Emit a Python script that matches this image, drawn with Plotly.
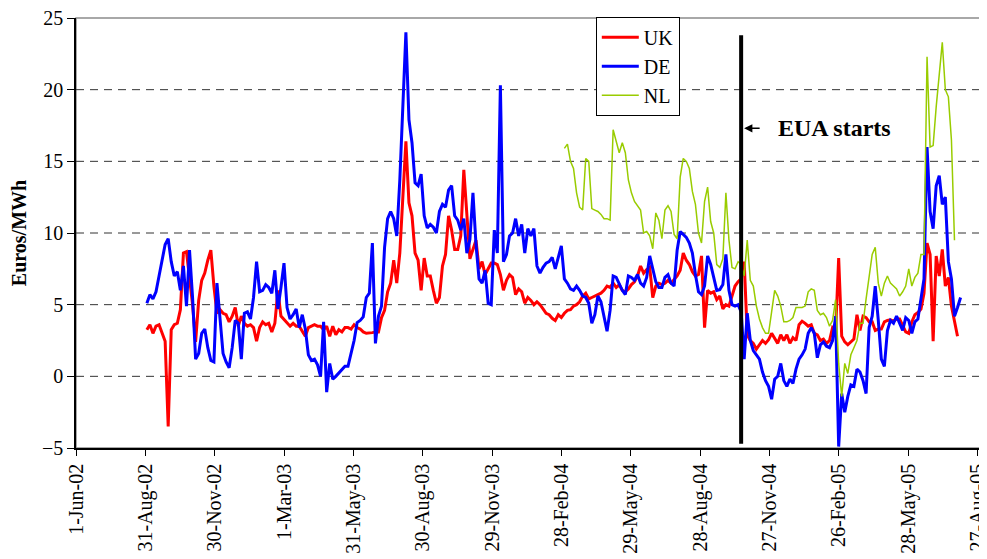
import pandas as pd
import plotly.graph_objects as go

# ---------------- data ----------------
series_start = "2002-09-02"   # first UK / DE observation
nl_start = "2004-03-03"       # first NL observation
step_days = 4

uk_values = [
    3.25, 3.6, 3.0, 3.5, 3.6, 3.0, 2.45, -3.5, 3.25, 3.6,
    3.7, 4.65, 8.6, 8.7, 7.0, 5.0, 2.4, 5.3, 6.7, 7.2,
    8.1, 8.8, 6.3, 4.4, 4.65, 4.4, 4.3, 3.8, 4.2, 4.8,
    3.5, 4.2, 3.7, 3.5, 3.6, 3.4, 2.45, 3.4, 3.8, 3.6,
    3.7, 3.1, 3.7, 6.0, 4.2, 3.95, 3.7, 3.5, 3.7, 3.5,
    3.5, 3.1, 2.8, 3.4, 3.5, 3.6, 3.5, 3.5, 3.25, 3.5,
    2.8, 3.5, 2.9, 3.25, 3.1, 3.4, 3.4, 3.3, 3.6, 3.4,
    3.3, 3.1, 3.0, 3.0, 3.05, 3.1, 3.1, 4.1, 4.6, 5.9,
    6.5, 8.1, 6.5, 8.6, 13.0, 16.4, 12.1, 11.2, 8.6, 8.1,
    6.0, 8.25, 7.0, 7.0, 6.0, 5.1, 5.5, 7.7, 8.5, 11.2,
    10.2, 8.85, 8.85, 9.8, 14.4, 11.5, 8.2, 8.85, 9.5, 7.5,
    8.0, 7.1, 7.5, 7.9, 7.9, 7.8, 7.1, 6.0, 6.7, 7.1,
    6.9, 5.7, 6.1, 5.9, 5.1, 5.5, 5.3, 5.0, 5.2, 5.0,
    4.7, 4.4, 4.3, 4.05, 3.9, 4.3, 4.1, 4.4, 4.6, 4.65,
    4.9, 5.0, 5.2, 5.6, 5.8, 5.4, 5.5, 5.6, 5.7, 5.8,
    6.0, 6.3, 6.2, 6.5, 6.2, 6.4, 6.0, 5.9, 6.1, 6.4,
    6.6, 7.0, 7.7, 7.2, 7.45, 7.6, 5.5, 6.3, 6.5, 6.4,
    6.5, 6.7, 6.5, 6.75, 7.0, 7.4, 8.6, 8.1, 7.8, 7.3,
    7.0, 7.1, 8.4, 3.4, 6.0, 5.8, 5.9, 5.35, 5.6, 4.7,
    5.0, 4.9, 5.6, 6.3, 6.6, 6.8, 8.0, 2.9, 2.5, 2.3,
    1.9, 2.2, 2.5, 2.3, 2.55, 3.0, 2.6, 2.3, 2.9, 2.5,
    2.9, 2.3, 2.7, 2.5, 3.6, 3.85, 3.7, 3.5, 3.6, 3.0,
    2.9, 2.5, 2.6, 2.3, 2.5, 3.4, 3.2, 8.25, 2.8, 2.4,
    2.2, 2.4, 2.6, 4.3, 3.2, 4.2, 4.1, 3.8, 3.8, 3.2,
    3.3, 3.3, 3.8, 3.9, 3.95, 3.85, 4.0, 4.0, 3.6, 3.1,
    3.0, 3.8, 4.3, 4.45, 4.7, 5.8, 9.3, 8.5, 2.45, 8.4,
    7.0, 8.85, 6.3, 6.9, 4.9, 3.9, 2.8,
]

de_values = [
    5.1, 5.7, 5.4, 5.9, 7.0, 8.2, 9.2, 9.6, 8.0, 7.0,
    7.3, 6.0, 7.7, 4.9, 8.8, 5.5, 1.2, 1.6, 3.0, 3.3,
    2.0, 1.1, 1.0, 6.5, 4.2, 1.6, 1.0, 0.6, 2.0, 3.9,
    3.7, 1.2, 4.4, 4.5, 4.0, 5.5, 8.0, 5.9, 6.0, 6.4,
    6.2, 5.8, 7.4, 4.7, 6.2, 7.9, 4.8, 4.0, 4.3, 4.7,
    3.4, 4.3, 3.3, 1.5, 1.1, 1.2, 0.8, 0.0, 3.8, -1.1,
    0.9, -0.2, 0.0, 0.25, 0.5, 0.7, 0.7, 1.5, 2.5, 3.75,
    3.9, 4.15, 5.5, 5.8, 9.3, 2.3, 4.2, 4.9, 9.0, 11.0,
    11.5, 11.0, 9.8, 13.7, 19.0, 24.0, 17.9, 16.3, 13.5, 13.3,
    14.1, 11.2, 10.35, 10.6, 10.4, 10.0, 11.5, 12.0, 11.8, 13.0,
    13.3, 11.2, 10.9, 10.2, 11.0, 8.6, 9.55, 12.8, 9.2, 6.8,
    6.5, 7.4, 5.1, 5.0, 10.2, 8.6, 20.3, 8.0, 8.5, 9.8,
    10.0, 11.0, 9.8, 10.6, 8.6, 10.3, 9.8, 10.3, 7.7, 7.2,
    7.6, 7.9, 8.0, 8.3, 7.5, 8.4, 9.1, 6.8, 6.5, 6.1,
    6.0, 6.3, 6.0, 5.6, 5.5, 5.1, 3.7, 4.3, 5.6, 5.2,
    4.1, 3.15, 4.6, 7.0, 6.9, 6.4, 6.0, 5.7, 7.0, 6.9,
    6.7, 7.1, 6.5, 6.3, 6.9, 8.4, 7.6, 6.6, 6.2, 6.2,
    6.9, 7.1, 6.5, 6.3, 8.8, 10.1, 9.9, 9.7, 9.3, 8.6,
    7.1, 5.9, 5.7, 6.3, 8.4, 7.8, 6.9, 6.0, 6.05, 6.4,
    8.5, 6.0, 5.0, 4.9, 5.0, 4.5, 1.2, 4.4, 2.5, 1.8,
    1.5, 1.2, 0.3, -0.3, -0.7, -1.6, -0.2, 0.0, 0.9, -0.3,
    -0.7, -0.2, -0.5, 0.5, 1.2, 1.5, 1.9, 3.0, 3.4, 3.0,
    1.3, 2.2, 2.4, 2.1, 2.0, 2.5, 4.2, -4.9, -1.2, -2.5,
    -1.4, -0.6, -0.7, 0.5, 0.3, -0.3, -1.2, 3.4, 4.2, 6.3,
    3.9, 1.2, 0.7, 3.2, 3.9, 3.7, 4.2, 3.7, 3.2, 4.1,
    3.9, 3.0, 3.8, 4.0, 5.4, 6.8, 16.0, 11.5, 10.3, 13.3,
    14.0, 12.0, 12.5, 8.0, 6.8, 4.2, 4.8, 5.5,
]

nl_values = [
    15.9, 16.2, 15.0, 14.5, 12.8, 11.8, 11.6, 15.2, 15.0, 11.7,
    11.6, 11.5, 11.3, 11.0, 11.0, 10.9, 17.2, 16.4, 15.6, 16.3,
    15.6, 13.7, 12.8, 12.2, 11.9, 11.6, 10.0, 10.1, 9.8, 8.9,
    11.4, 10.9, 9.6, 11.6, 11.9, 11.5, 9.9, 9.6, 13.9, 15.2,
    15.0, 14.5, 12.9, 12.0, 10.0, 9.3, 12.2, 13.2, 10.8, 10.0,
    7.8, 7.6, 8.2, 12.8, 9.5, 7.6, 7.5, 8.0, 7.8,
    7.0, 9.5, 6.7, 6.3, 4.9, 4.0, 3.4, 3.0, 3.0, 4.5,
    6.0, 5.6, 4.9, 3.8, 3.8, 3.9, 4.1, 4.8, 4.8, 4.8,
    4.9, 5.9, 6.1, 6.0, 4.6, 4.3, 4.4, 4.1, 3.5, 3.9,
    5.35, 0.9, -1.4, 0.9, 0.2, 1.5, 2.0, 2.5, 3.7, 3.7,
    5.4, 7.0, 8.5, 9.0, 6.5, 5.6, 6.5, 7.0, 6.5, 6.3,
    6.1, 5.6, 5.9, 6.3, 7.5, 6.3, 6.9, 7.2, 8.5, 8.5,
    22.3, 16.0, 16.1, 18.8, 21.0, 23.3, 20.0, 19.5, 16.5, 9.5,
]

tick_dates = [
    "2002-06-01", "2002-08-31", "2002-11-30", "2003-03-01", "2003-05-31",
    "2003-08-30", "2003-11-29", "2004-02-28", "2004-05-29", "2004-08-28",
    "2004-11-27", "2005-02-26", "2005-05-28", "2005-08-27",
]
tick_labels = [
    "1-Jun-02", "31-Aug-02", "30-Nov-02", "1-Mar-03", "31-May-03",
    "30-Aug-03", "29-Nov-03", "28-Feb-04", "29-May-04", "28-Aug-04",
    "27-Nov-04", "26-Feb-05", "28-May-05", "27-Aug-05",
]
y_ticks = [-5, 0, 5, 10, 15, 20, 25]
grid_levels = [0, 5, 10, 15, 20]

eua_date = "2004-10-21"
eua_span = (-4.7, 23.8)
eua_label_level = 17.3

# ---------------- figure ----------------
freq = f"{step_days}D"
uk_dates = pd.date_range(series_start, periods=len(uk_values), freq=freq)
de_dates = pd.date_range(series_start, periods=len(de_values), freq=freq)
nl_dates = pd.date_range(nl_start, periods=len(nl_values), freq=freq)

FONT = "Liberation Serif, Times New Roman, serif"

fig = go.Figure()
fig.add_trace(go.Scatter(x=uk_dates, y=uk_values, mode="lines", name="UK",
                         legendgroup="uk",
                         line=dict(color="#FF0000", width=3)))
fig.add_trace(go.Scatter(x=de_dates, y=de_values, mode="lines", name="DE",
                         legendgroup="de",
                         line=dict(color="#0000FF", width=3)))
fig.add_trace(go.Scatter(x=nl_dates, y=nl_values, mode="lines", name="NL",
                         legendgroup="nl",
                         line=dict(color="#99CC00", width=1.5)))

shapes = [
    dict(type="rect", xref="paper", yref="paper", x0=0, x1=1, y0=0, y1=1,
         line=dict(color="#8c8c8c", width=1.5), layer="below"),
]
for g in grid_levels:
    shapes.append(dict(type="line", xref="paper", yref="y", x0=0, x1=1, y0=g, y1=g,
                       line=dict(color="#333333", width=1, dash="8px,6px"),
                       layer="below"))
shapes.append(dict(type="line", xref="x", yref="y", x0=eua_date, x1=eua_date,
                   y0=eua_span[0], y1=eua_span[1],
                   line=dict(color="black", width=4)))

annotations = [
    dict(x=eua_date, y=eua_label_level, xref="x", yref="y", text="",
         showarrow=True, ax=20, ay=0, arrowhead=2, arrowsize=1.1,
         arrowwidth=1.5, arrowcolor="black", standoff=3),
    dict(x=0.7743, y=eua_label_level, xref="paper", yref="y",
         text="<b>EUA starts</b>", showarrow=False, xanchor="left",
         yanchor="middle", font=dict(family=FONT, size=24, color="black")),
]

# the page body adds an 8px offset, so the figure is sized to compensate
fig.update_layout(
    width=979, height=551,
    margin=dict(l=68, r=7, t=10, b=111, autoexpand=False),
    paper_bgcolor="white", plot_bgcolor="white",
    font=dict(family=FONT, size=20, color="black"),
    shapes=shapes,
    annotations=annotations,
    showlegend=True,
    legend=dict(x=0.575, y=1.003, xanchor="left", yanchor="top",
                bgcolor="white", bordercolor="black", borderwidth=1,
                font=dict(family=FONT, size=20, color="black"),
                tracegroupgap=0, itemwidth=37),
)
fig.update_xaxes(
    type="date", range=["2002-06-01", "2005-08-30 12:00"],
    tickmode="array", tickvals=tick_dates, ticktext=tick_labels,
    tickangle=-90, ticks="outside", ticklen=6, tickcolor="black",
    showline=True, linecolor="black", linewidth=1.5,
    showgrid=False, zeroline=False, automargin=False,
    ticklabeloverflow="allow",
    tickfont=dict(family=FONT, size=20, color="black"),
)
fig.update_yaxes(
    range=[-5, 25], tickmode="array", tickvals=y_ticks,
    ticks="outside", ticklen=7, tickcolor="black",
    showline=True, linecolor="black", linewidth=1.5,
    showgrid=False, zeroline=False, automargin=False,
    ticklabeloverflow="allow",
    tickfont=dict(family=FONT, size=20, color="black"),
    title=dict(text="<b>Euros/MWh</b>", font=dict(family=FONT, size=20, color="black"),
               standoff=14),
)

fig.write_html("out.html")
